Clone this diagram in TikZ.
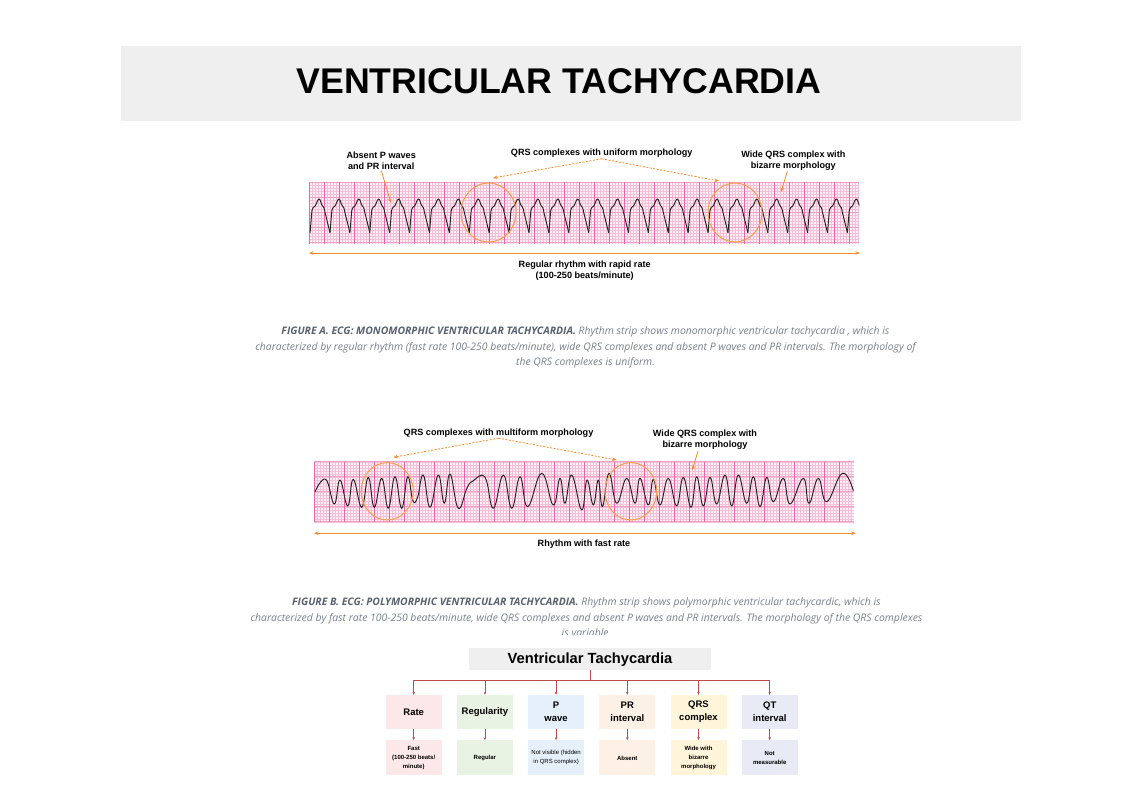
\documentclass[tikz,border=0pt]{standalone}
\usepackage{fontspec}
\setmainfont{Liberation Sans}
\newfontfamily\capfont{Open Sans}
\usetikzlibrary{positioning, arrows.meta}

\definecolor{bannergray}{RGB}{239,239,239}
\definecolor{ecgbg}{RGB}{253,238,245}
\definecolor{ecgminor}{RGB}{244,192,216}
\definecolor{ecghmajor}{RGB}{239,160,197}
\definecolor{ecgmajor}{RGB}{230,105,165}
\definecolor{ecgline}{RGB}{35,35,35}
\definecolor{markorange}{RGB}{246,140,40}
\definecolor{ringorange}{RGB}{245,160,75}
\definecolor{capdark}{RGB}{90,98,112}
\definecolor{caplight}{RGB}{122,128,140}
\definecolor{treered}{RGB}{190,75,75}
\definecolor{rateFill}{RGB}{252,232,232}
\definecolor{regFill}{RGB}{233,243,228}
\definecolor{pwaveFill}{RGB}{230,240,251}
\definecolor{prFill}{RGB}{253,240,228}
\definecolor{qrsFill}{RGB}{254,245,219}
\definecolor{qtFill}{RGB}{232,235,246}

\tikzset{
  notetext/.style={font=\fontsize{9.1}{11}\selectfont\bfseries, align=center, inner sep=1pt},
  pointer/.style={markorange, line width=0.8pt, -{Stealth[length=4.5pt,width=3.5pt]}},
  dashpointer/.style={pointer, dash pattern=on 2pt off 1.5pt},
  spanarrow/.style={markorange, line width=0.9pt, {Stealth[length=4.5pt,width=3.5pt]}-{Stealth[length=4.5pt,width=3.5pt]}},
  ringmark/.style={ringorange, line width=1pt},
  ecgtrace/.style={ecgline, line width=0.95pt, line join=round},
  captext/.style={font=\capfont\fontsize{10.4}{15.5}\selectfont\itshape, text=caplight, align=center},
  treetitle/.style={fill=bannergray, minimum width=241.4pt, minimum height=21.7pt, inner sep=0pt, font=\fontsize{14.7}{16}\selectfont\bfseries},
  catbox/.style={minimum width=56pt, minimum height=34pt, inner sep=1pt, align=center, font=\fontsize{9.5}{13.3}\selectfont\bfseries},
  valbox/.style={minimum width=56pt, minimum height=35pt, inner sep=1pt, align=center, font=\fontsize{6}{9}\selectfont\bfseries},
  treeline/.style={treered, line width=0.6pt, -{Stealth[length=3pt,width=2.5pt]}}
}

\begin{document}
\begin{tikzpicture}[x=1pt, y=-1pt]
    \useasboundingbox (0,0) rectangle (1136,790);
    \fill[white] (0,0) rectangle (1136,790);

    % Title banner
    \fill[bannergray] (121,46) rectangle (1021,121);
    \node[font=\fontsize{35.7}{40}\selectfont\bfseries] (title) at (559,81) {VENTRICULAR TACHYCARDIA};

    % Strip A: ECG paper
    \fill[ecgbg] (309.3,182.3) rectangle (859.3,244);
    \foreach \x in {0,3,...,549} \draw[ecgminor, line width=0.3pt] (309.3+\x,182.3) -- ++(0,61.7);
    \foreach \y in {0,3,...,61} \draw[ecgminor, line width=0.3pt] (309.3,182.3+\y) -- ++(550,0);
    \foreach \y in {0,15,...,60} \draw[ecghmajor, line width=0.5pt] (309.3,182.3+\y) -- ++(550,0);
    \foreach \x in {0,15,...,549} \draw[ecgmajor, line width=0.7pt] (309.3+\x,182.3) -- ++(0,61.7);

    % Strip A: monomorphic trace
    \begin{scope}
        \clip (309.3,182.3) rectangle (859.3,244);
        \foreach \k in {-1,...,26} {
            \pgfmathsetmacro\t{330+19.9*\k}
            \draw[ecgtrace] (\t,232.7) -- (\t+1.8,211)
                .. controls (\t+2.5,207) and (\t+4,207) .. (\t+5,206)
                .. controls (\t+6.5,204) and (\t+7.5,199) .. (\t+9,199)
                .. controls (\t+10.5,199) and (\t+11,205) .. (\t+12.5,206)
                .. controls (\t+13.5,207) and (\t+14.2,208) .. (\t+14.8,212)
                -- (\t+19.9,232.7);
        }
    \end{scope}

    % Strip A: marks
    \draw[ringmark] (488.5,212.5) ellipse [x radius=27.5pt, y radius=29.5pt];
    \draw[ringmark] (735,212.5) ellipse [x radius=27pt, y radius=29.5pt];
    \node[notetext] (absentnote) at (381.2,160.5) {Absent P waves\\and PR interval};
    \node[notetext] (uniformnote) at (601.7,153.3) {QRS complexes with uniform morphology};
    \node[notetext] (wideA) at (793.3,160.5) {Wide QRS complex with\\bizarre morphology};
    \coordinate (absenttip) at (391,203);
    \coordinate (uniformleft) at (493,178);
    \coordinate (uniformright) at (719,181);
    \coordinate (wideAtip) at (781,192);
    \draw[pointer] (absentnote.south) -- (absenttip);
    \draw[dashpointer] (uniformnote.south) -- (uniformleft);
    \draw[dashpointer] (uniformnote.south) -- (uniformright);
    \draw[pointer] ([xshift=-6pt]wideA.south) -- (wideAtip);
    \coordinate (spanAleft) at (309,253);
    \coordinate (spanAright) at (860,253);
    \draw[spanarrow] (spanAleft) -- (spanAright);
    \node[notetext] (rhythmA) at (584.7,270.5) {Regular rhythm with rapid rate\\(100-250 beats/minute)};

    % Caption A
    \node[captext] (captionA) at (585.5,347.5) {{\bfseries\color{capdark}FIGURE A. ECG: MONOMORPHIC VENTRICULAR TACHYCARDIA.} Rhythm strip shows monomorphic ventricular tachycardia , which is\\characterized by regular rhythm (fast rate 100-250 beats/minute), wide QRS complexes and absent P waves and PR intervals. The morphology of\\the QRS complexes is uniform.};

    % Strip B: ECG paper
    \fill[ecgbg] (314.3,461.7) rectangle (853.7,521.7);
    \foreach \x in {0,3,...,538} \draw[ecgminor, line width=0.3pt] (314.3+\x,461.7) -- ++(0,60);
    \foreach \y in {0,3,...,60} \draw[ecgminor, line width=0.3pt] (314.3,461.7+\y) -- ++(539.4,0);
    \foreach \y in {0,15,...,60} \draw[ecghmajor, line width=0.5pt] (314.3,461.7+\y) -- ++(539.4,0);
    \foreach \x in {0,15,...,538} \draw[ecgmajor, line width=0.7pt] (314.3+\x,461.7) -- ++(0,60);

    % Strip B: polymorphic trace
    \draw[ecgtrace] plot[smooth, tension=0.75] coordinates {
        (315,491.7) (325.7,479.3) (334.3,504) (340,480) (347.7,506) (353.3,479.3)
        (361.7,507.3) (368.3,477.3) (374.3,507.3) (381.7,478.3) (388.3,508.3) (395,476.7)
        (401.7,508.3) (407.7,476.7) (412.8,500.5) (417.5,497.5) (423.3,475) (430,507.3)
        (438.3,475) (444.3,503.3) (450,474) (458.3,508.3) (467,488) (473,481) (485,477.3)
        (493.3,508.3) (503.3,475) (511.7,508.3) (520,476.7) (527.7,506.7) (541.7,473.3)
        (553.3,505) (560,478.3) (565,503.3) (571.7,475) (581.7,510) (587,480) (593.3,505)
        (598.3,480) (602.5,506.7) (609,473.3) (616.7,503.3) (626.7,478.3) (635,503.3)
        (640,478.3) (648.3,505) (653.3,479.3) (660,505) (668.3,478.3) (676.7,506)
        (683.3,477.3) (691,507.3) (696.7,476.7) (703.3,506) (710,477.3) (716.7,504)
        (725,475) (731.7,506) (738.3,475) (746.7,503.3) (753.3,476.7) (760,506.7)
        (766.7,477.3) (773.3,501.7) (783.3,478.3) (790,504) (803.3,478.3) (809,503.3)
        (818.3,478.3) (826.7,501.7) (842.3,473.3) (853.3,490.7)};

    % Strip B: marks
    \draw[ringmark] (387.2,491.3) ellipse [x radius=26pt, y radius=28.7pt];
    \draw[ringmark] (630.8,491.3) ellipse [x radius=25.8pt, y radius=28.7pt];
    \node[notetext] (multinote) at (498.5,432.7) {QRS complexes with multiform morphology};
    \node[notetext] (wideB) at (705,440) {Wide QRS complex with\\bizarre morphology};
    \coordinate (multileft) at (393.3,457.3);
    \coordinate (multiright) at (616.7,460);
    \coordinate (wideBtip) at (692.3,470);
    \draw[dashpointer] (multinote.south) -- (multileft);
    \draw[dashpointer] (multinote.south) -- (multiright);
    \draw[pointer] ([xshift=-7pt]wideB.south) -- (wideBtip);
    \coordinate (spanBleft) at (314,533.3);
    \coordinate (spanBright) at (855.7,533.3);
    \draw[spanarrow] (spanBleft) -- (spanBright);
    \node[notetext] (rhythmB) at (584,544.3) {Rhythm with fast rate};

    % Caption B (last line cut by the chart)
    \begin{scope}
        \clip (0,590) rectangle (1136,634);
        \node[captext] (captionB) at (586.5,617.5) {{\bfseries\color{capdark}FIGURE B. ECG: POLYMORPHIC VENTRICULAR TACHYCARDIA.} Rhythm strip shows polymorphic ventricular tachycardic, which is\\characterized by fast rate 100-250 beats/minute, wide QRS complexes and absent P waves and PR intervals. The morphology of the QRS complexes\\is variable.};
    \end{scope}

    % Summary chart
    \node[treetitle] (vt) at (590,659.2) {Ventricular Tachycardia};
    \node[catbox, fill=rateFill] (rate) at (413.7,712) {Rate};
    \node[catbox, fill=regFill, right=14.8pt of rate] (regularity) {Regularity};
    \node[catbox, fill=pwaveFill, right=14.8pt of regularity] (pwave) {P\\wave};
    \node[catbox, fill=prFill, right=14.8pt of pwave] (printerval) {PR\\interval};
    \node[catbox, fill=qrsFill, right=14.8pt of printerval] (qrs) {QRS\\complex};
    \node[catbox, fill=qtFill, right=14.8pt of qrs] (qtinterval) {QT\\interval};
    \node[valbox, fill=rateFill, below=11pt of rate] (rateval) {Fast\\(100-250 beats/\\minute)};
    \node[valbox, fill=regFill, below=11pt of regularity] (regval) {Regular};
    \node[valbox, fill=pwaveFill, below=11pt of pwave, font=\fontsize{6}{9}\selectfont] (pwaveval) {Not visible (hidden\\in QRS complex)};
    \node[valbox, fill=prFill, below=11pt of printerval] (prval) {Absent};
    \node[valbox, fill=qrsFill, below=11pt of qrs] (qrsval) {Wide with\\bizarre\\morphology};
    \node[valbox, fill=qtFill, below=11pt of qtinterval] (qtval) {Not\\measurable};
    \foreach \c in {rate, regularity, pwave, printerval, qrs, qtinterval}
        \draw[treeline] (vt.south) -- ++(0,10.5) -| (\c.north);
    \draw[treeline] (rate) -- (rateval);
    \draw[treeline] (regularity) -- (regval);
    \draw[treeline] (pwave) -- (pwaveval);
    \draw[treeline] (printerval) -- (prval);
    \draw[treeline] (qrs) -- (qrsval);
    \draw[treeline] (qtinterval) -- (qtval);
\end{tikzpicture}
\end{document}
